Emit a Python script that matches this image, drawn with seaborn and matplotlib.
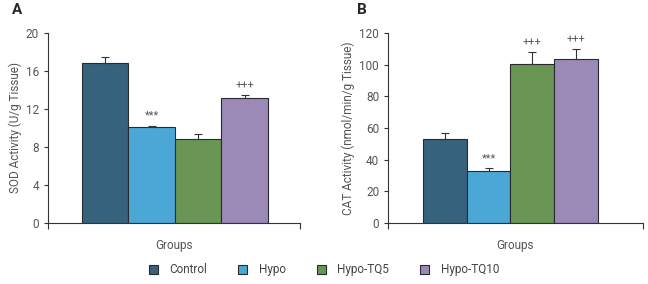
import numpy as np
import pandas as pd
import matplotlib
matplotlib.use("Agg")
import matplotlib.pyplot as plt
import seaborn as sns

groups = ["Control", "Hypo", "Hypo-TQ5", "Hypo-TQ10"]
sod_mean = [16.85, 10.15, 8.85, 13.15]
sod_err = [0.65, 0.1, 0.55, 0.3]
cat_mean = [53.0, 32.6, 100.3, 103.6]
cat_err = [3.5, 2.3, 7.6, 6.0]
sod_marks = ["", "***", "", "+++"]
cat_marks = ["", "***", "+++", "+++"]
colors = ["#36627d", "#4aa7d6", "#6a9655", "#9b8ab8"]

sns.set_style("ticks")
plt.rcParams["font.family"] = ["Roboto", "DejaVu Sans"]
plt.rcParams["axes.edgecolor"] = "#333333"
plt.rcParams["xtick.color"] = "#333333"
plt.rcParams["ytick.color"] = "#333333"

fig = plt.figure(figsize=(6.48, 2.84), dpi=100)
axA = fig.add_axes([0.074, 0.215, 0.389, 0.669])
axB = fig.add_axes([0.599, 0.215, 0.393, 0.669])


def panel(ax, means, errs, marks, ylim, yticks, ylabel, xlim):
    df = pd.DataFrame({"x": ["Groups"] * 4, "group": groups, "val": means})
    sns.barplot(data=df, x="x", y="val", hue="group", palette=colors,
                hue_order=groups, width=0.8, errorbar=None, ax=ax,
                edgecolor="#2a2a2a", linewidth=0.8, legend=False, saturation=1)
    bars = ax.patches[:4]
    for b, m, e, mk in zip(bars, means, errs, marks):
        cx = b.get_x() + b.get_width() / 2
        ax.errorbar(cx, m, yerr=[[0], [e]], fmt="none", ecolor="#333333",
                    elinewidth=0.8, capsize=3, capthick=0.8)
        if mk:
            ax.text(cx, m + e + ylim[1] * 0.025, mk, ha="center", va="bottom",
                    fontsize=8, color="#555555")
    ax.set_ylim(*ylim)
    ax.set_yticks(yticks)
    ax.set_xlim(*xlim)
    ax.set_xticks(list(xlim))
    ax.set_xticklabels(["", ""])
    ax.tick_params(axis="x", length=4, width=0.8, direction="out")
    ax.tick_params(axis="y", length=3, width=0.8, labelsize=8.5, labelcolor="#555555")
    ax.set_xlabel("Groups", fontsize=8.5, color="#555555", labelpad=4)
    ax.set_ylabel(ylabel, fontsize=8.5, color="#555555", labelpad=3)
    for s in ["top", "right"]:
        ax.spines[s].set_visible(False)
    ax.spines["left"].set_linewidth(0.8)
    ax.spines["bottom"].set_linewidth(0.8)


panel(axA, sod_mean, sod_err, sod_marks, (0, 20), [0, 4, 8, 12, 16, 20],
      "SOD Activity (U/g Tissue)", (-0.546, 0.538))
panel(axB, cat_mean, cat_err, cat_marks, (0, 120), [0, 20, 40, 60, 80, 100, 120],
      "CAT Activity (nmol/min/g Tissue)", (-0.56, 0.606))

fig.text(0.018, 0.965, "A", fontsize=11, fontweight="bold", va="center")
fig.text(0.551, 0.965, "B", fontsize=11, fontweight="bold", va="center")

handles = [plt.Rectangle((0, 0), 1, 1, facecolor=c, edgecolor="#2a2a2a", linewidth=0.8)
           for c in colors]
leg = fig.legend(handles, groups, loc="center", bbox_to_anchor=(0.5, 0.05), ncol=4,
                 frameon=False, fontsize=8.5, handlelength=0.75, handleheight=0.75,
                 columnspacing=2.6, handletextpad=1.0)
for t in leg.get_texts():
    t.set_color("#444444")

fig.savefig("out.png", dpi=100)
